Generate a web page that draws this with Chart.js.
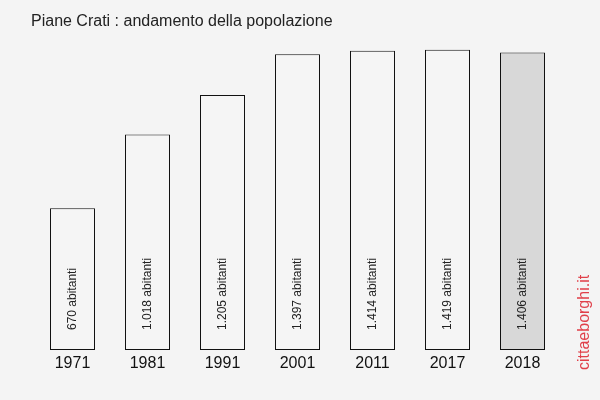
<!DOCTYPE html>
<html>
<head>
<meta charset="utf-8">
<script src="https://cdn.jsdelivr.net/npm/chart.js@4"></script>
<style>
  html, body { margin: 0; padding: 0; background: #f4f4f4; }
  #wrap { width: 600px; height: 400px; }
</style>
</head>
<body>
<div id="wrap"><canvas id="chart" width="600" height="400"></canvas></div>
<script>
"use strict";

// Dati della popolazione
const years = ["1971", "1981", "1991", "2001", "2011", "2017", "2018"];
const population = [670, 1018, 1205, 1397, 1414, 1419, 1406];
const valueLabels = ["670 abitanti", "1.018 abitanti", "1.205 abitanti", "1.397 abitanti",
    "1.414 abitanti", "1.419 abitanti", "1.406 abitanti"];
const chartTitle = "Piane Crati : andamento della popolazione";
const watermark = "cittaeborghi.it";

const fills = years.map((y, i) => i === years.length - 1 ? "#d8d8d8" : "#f5f5f5");

// Testi: titolo, etichette anni, etichette verticali, firma
const textPlugin = {
    id: "texts",
    afterDatasetsDraw(chart) {
        const ctx = chart.ctx;
        const x = chart.scales.x;
        const meta = chart.getDatasetMeta(0);
        ctx.save();

        ctx.fillStyle = "#222";
        ctx.font = "16px 'Liberation Sans', Arial, sans-serif";
        ctx.textAlign = "left";
        ctx.textBaseline = "middle";
        ctx.fillText(chartTitle, 31, 22);

        ctx.fillStyle = "#111";
        ctx.font = "16px 'Liberation Sans', Arial, sans-serif";
        ctx.textAlign = "center";
        years.forEach((y, i) => {
            ctx.fillText(y, x.getPixelForValue(i), 364);
        });

        ctx.fillStyle = "#222";
        ctx.font = "12px 'Liberation Sans', Arial, sans-serif";
        meta.data.forEach((bar, i) => {
            ctx.save();
            ctx.translate(bar.x, bar.base - 20);
            ctx.rotate(-Math.PI / 2);
            ctx.textAlign = "left";
            ctx.textBaseline = "middle";
            ctx.fillText(valueLabels[i], 0, 0);
            ctx.restore();
        });

        ctx.fillStyle = "#e0404a";
        ctx.font = "16px 'Liberation Sans', Arial, sans-serif";
        ctx.translate(585, 370);
        ctx.rotate(-Math.PI / 2);
        ctx.textAlign = "left";
        ctx.textBaseline = "middle";
        ctx.fillText(watermark, 0, 0);
        ctx.restore();
    }
};

new Chart(document.getElementById("chart").getContext("2d"), {
    type: "bar",
    data: {
        labels: years,
        datasets: [{
            data: population,
            backgroundColor: fills,
            borderColor: "#111",
            borderWidth: 1,
            borderSkipped: false,
            barPercentage: 0.6,
            categoryPercentage: 1
        }]
    },
    options: {
        responsive: false,
        animation: false,
        layout: { padding: { left: 35, right: 40, top: 49, bottom: 50 } },
        plugins: {
            legend: { display: false },
            tooltip: { enabled: false }
        },
        scales: {
            x: { display: false },
            y: { display: false, min: 0, max: 1422 }
        }
    },
    plugins: [textPlugin]
});
</script>
</body>
</html>
